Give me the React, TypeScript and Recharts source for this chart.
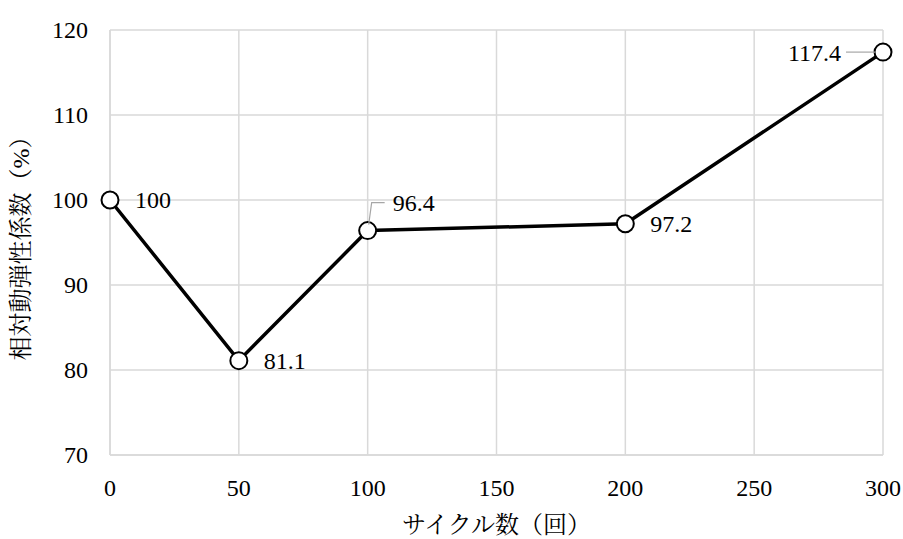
import { LineChart, Line, XAxis, YAxis, CartesianGrid, LabelList } from 'recharts'

const cycles = [0, 50, 100, 200, 300]
const modulus = [100, 81.1, 96.4, 97.2, 117.4]
const valueLabels = ['100', '81.1', '96.4', '97.2', '117.4']
const xTicks = [0, 50, 100, 150, 200, 250, 300]
const yTicks = [70, 80, 90, 100, 110, 120]

const data = cycles.map((c, i) => ({ cycle: c, value: modulus[i], label: valueLabels[i] }))

const FONT = "'Liberation Serif', 'Noto Serif CJK JP', serif"
const textStyle = { fontFamily: FONT, fontSize: 24, fill: '#000' }

// eslint-disable-next-line @typescript-eslint/no-explicit-any
const XTick = (props: any) => {
  const { x, y, payload } = props
  return (
    <text x={x} y={y} dy="0.71em" textAnchor="middle" fontFamily={FONT} fontSize={24} fill="#000" style={textStyle}>
      {payload.value}
    </text>
  )
}

// eslint-disable-next-line @typescript-eslint/no-explicit-any
const YTick = (props: any) => {
  const { x, y, payload } = props
  return (
    <text x={x} y={y} dy="0.35em" textAnchor="end" fontFamily={FONT} fontSize={24} fill="#000" style={textStyle}>
      {payload.value}
    </text>
  )
}

// eslint-disable-next-line @typescript-eslint/no-explicit-any
const PointLabel = (props: any) => {
  const { x, y, index, value } = props
  if (index === 2) {
    // above-right, with leader line
    return (
      <g>
        <polyline points={`${x + 1},${y - 6} ${x + 4},${y - 28} ${x + 17},${y - 28}`} fill="none" stroke="#a6a6a6" strokeWidth={1.2} />
        <text x={x + 25} y={y - 28} dy="0.35em" fontFamily={FONT} style={textStyle}>{value}</text>
      </g>
    )
  }
  if (index === 4) {
    return (
      <g>
        <line x1={x - 37} y1={y} x2={x - 8} y2={y} stroke="#a6a6a6" strokeWidth={1.2} />
        <text x={x - 42} y={y} dy="0.35em" textAnchor="end" fontFamily={FONT} style={textStyle}>{value}</text>
      </g>
    )
  }
  return <text x={x + 25} y={y} dy="0.35em" fontFamily={FONT} style={textStyle}>{value}</text>
}

export default function App() {
  return (
    <div style={{ position: 'absolute', left: 0, top: 0, background: '#fff', fontFamily: FONT }}>
      <LineChart width={903} height={539} data={data} margin={{ top: 30, right: 20, bottom: 0, left: 50 }}>
        <CartesianGrid stroke="#d9d9d9" strokeWidth={1.5} />
        <XAxis
          dataKey="cycle"
          type="number"
          domain={[0, 300]}
          ticks={xTicks}
          height={84}
          tickSize={0}
          tickMargin={24}
          axisLine={{ stroke: '#d9d9d9', strokeWidth: 1.5 }}
          tick={<XTick />}
          label={{ value: 'サイクル数（回）', position: 'insideBottom', offset: 6, style: textStyle }}
        />
        <YAxis
          type="number"
          domain={[70, 120]}
          ticks={yTicks}
          width={60}
          tickSize={0}
          tickMargin={22}
          axisLine={{ stroke: '#d9d9d9', strokeWidth: 1.5 }}
          tick={<YTick />}
          label={{ value: '相対動弾性係数（%）', angle: -90, position: 'center', dx: -60, dy: 0, style: { ...textStyle, textAnchor: 'middle' } }}
        />
        <Line
          dataKey="value"
          type="linear"
          stroke="#000"
          strokeWidth={3.5}
          dot={{ r: 8.5, fill: '#fff', stroke: '#000', strokeWidth: 2 }}
          isAnimationActive={false}
        >
          <LabelList dataKey="label" content={PointLabel} />
        </Line>
      </LineChart>
    </div>
  )
}
